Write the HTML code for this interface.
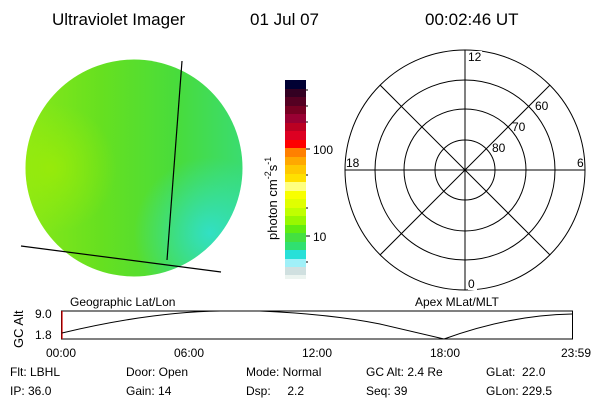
<!DOCTYPE html>
<html><head><meta charset="utf-8"><style>
body{margin:0;background:#fff;}
svg text{font-family:"Liberation Sans",sans-serif;fill:#000;}
</style></head><body>
<svg width="600" height="400" viewBox="0 0 600 400" xmlns="http://www.w3.org/2000/svg">
<defs>
<linearGradient id="g1" x1="0" y1="0" x2="1" y2="0">
<stop offset="0" stop-color="#88e818"/>
<stop offset="0.35" stop-color="#66e020"/>
<stop offset="0.7" stop-color="#48dc3c"/>
<stop offset="1" stop-color="#3adc70"/>
</linearGradient>
<radialGradient id="g2" cx="0.85" cy="0.8" r="0.35">
<stop offset="0" stop-color="#30e0d0" stop-opacity="0.9"/>
<stop offset="1" stop-color="#30e0d0" stop-opacity="0"/>
</radialGradient>
<radialGradient id="g3" cx="0.12" cy="0.5" r="0.3">
<stop offset="0" stop-color="#a8ee00" stop-opacity="0.6"/>
<stop offset="1" stop-color="#a8ee00" stop-opacity="0"/>
</radialGradient>
</defs>
<text x="52" y="25" font-size="17">Ultraviolet Imager</text>
<text x="250" y="25" font-size="17">01 Jul 07</text>
<text x="425" y="25" font-size="17">00:02:46 UT</text>

<circle cx="134" cy="168" r="108.5" fill="url(#g1)"/>
<circle cx="134" cy="168" r="108.5" fill="url(#g3)"/>
<circle cx="134" cy="168" r="108.5" fill="url(#g2)"/>
<line x1="182" y1="61" x2="167" y2="260" stroke="#000" stroke-width="1.2"/>
<line x1="21" y1="246" x2="221" y2="272" stroke="#000" stroke-width="1.2"/>

<g>
<rect x="285" y="80" width="21" height="9" fill="#000033"/>
<rect x="285" y="89" width="21" height="8" fill="#330022"/>
<rect x="285" y="97" width="21" height="9" fill="#550022"/>
<rect x="285" y="106" width="21" height="8" fill="#770022"/>
<rect x="285" y="114" width="21" height="9" fill="#990033"/>
<rect x="285" y="123" width="21" height="8" fill="#bb0022"/>
<rect x="285" y="131" width="21" height="9" fill="#dd0022"/>
<rect x="285" y="140" width="21" height="8" fill="#ff0000"/>
<rect x="285" y="148" width="21" height="9" fill="#ff8000"/>
<rect x="285" y="157" width="21" height="8" fill="#ffa800"/>
<rect x="285" y="165" width="21" height="9" fill="#ffc800"/>
<rect x="285" y="174" width="21" height="8" fill="#ffe000"/>
<rect x="285" y="182" width="21" height="9" fill="#ffff80"/>
<rect x="285" y="191" width="21" height="8" fill="#f8ff00"/>
<rect x="285" y="199" width="21" height="9" fill="#e0ff00"/>
<rect x="285" y="208" width="21" height="8" fill="#c0ff00"/>
<rect x="285" y="216" width="21" height="9" fill="#98f800"/>
<rect x="285" y="225" width="21" height="8" fill="#60ec10"/>
<rect x="285" y="233" width="21" height="9" fill="#44e040"/>
<rect x="285" y="242" width="21" height="8" fill="#30e070"/>
<rect x="285" y="250" width="21" height="9" fill="#28e0d8"/>
<rect x="285" y="259" width="21" height="8" fill="#a0f0f8"/>
<rect x="285" y="267" width="21" height="8" fill="#d0e0e0"/>
<rect x="285" y="275" width="21" height="4" fill="#ecf4f0"/>
<line x1="306" y1="149" x2="310" y2="149" stroke="#000"/>
<line x1="306" y1="236" x2="310" y2="236" stroke="#000"/>
<line x1="306" y1="90" x2="308" y2="90" stroke="#000"/>
<line x1="306" y1="106" x2="308" y2="106" stroke="#000"/>
<line x1="306" y1="122" x2="308" y2="122" stroke="#000"/>
<line x1="306" y1="175" x2="308" y2="175" stroke="#000"/>
<line x1="306" y1="208" x2="308" y2="208" stroke="#000"/>
<line x1="306" y1="262" x2="308" y2="262" stroke="#000"/>
<text x="313" y="154" font-size="12">100</text>
<text x="313" y="241" font-size="12">10</text>
<text transform="translate(277,240) rotate(-90)" font-size="13">photon cm<tspan font-size="9" dy="-6">-2</tspan><tspan dy="6">s</tspan><tspan font-size="9" dy="-6">-1</tspan></text>
</g>

<g fill="none" stroke="#000" stroke-width="1">
<circle cx="465" cy="170" r="120"/>
<circle cx="465" cy="170" r="90"/>
<circle cx="465" cy="170" r="61"/>
<circle cx="465" cy="170" r="30"/>
<line x1="345" y1="170" x2="585" y2="170"/>
<line x1="465" y1="50" x2="465" y2="290"/>
<line x1="380" y1="85" x2="550" y2="255"/>
<line x1="550" y1="85" x2="380" y2="255"/>
</g>
<rect x="468" y="51" width="14" height="11" fill="#fff"/>
<text x="468" y="61" font-size="12">12</text>
<rect x="468" y="279" width="9" height="11" fill="#fff"/>
<text x="468" y="288" font-size="12">0</text>
<text x="346" y="167" font-size="12">18</text>
<text x="577" y="167" font-size="12">6</text>
<text x="492" y="152" font-size="12">80</text>
<text x="512" y="131" font-size="12">70</text>
<text x="535" y="110" font-size="12">60</text>

<text x="70" y="306" font-size="12">Geographic Lat/Lon</text>
<text x="415" y="306" font-size="12">Apex MLat/MLT</text>
<rect x="61.5" y="311" width="511" height="28" fill="none" stroke="#000"/>
<line x1="62" y1="311" x2="62" y2="339" stroke="#d00" stroke-width="1.2"/>
<path d="M62,333 Q150,312 220,311 L260,311 Q330,314 380,324 L444,339 Q510,315 572,314" fill="none" stroke="#000" stroke-width="1"/>
<text x="35" y="318" font-size="12">9.0</text>
<text x="35" y="339" font-size="12">1.8</text>
<text transform="translate(23,348) rotate(-90)" font-size="13">GC Alt</text>
<text x="61" y="357" font-size="12" text-anchor="middle">00:00</text>
<text x="189" y="357" font-size="12" text-anchor="middle">06:00</text>
<text x="317" y="357" font-size="12" text-anchor="middle">12:00</text>
<text x="445" y="357" font-size="12" text-anchor="middle">18:00</text>
<text x="591" y="357" font-size="12" text-anchor="end">23:59</text>

<g font-size="12">
<text x="10" y="376">Flt: LBHL</text>
<text x="126" y="376">Door: Open</text>
<text x="246" y="376">Mode: Normal</text>
<text x="366" y="376">GC Alt: 2.4 Re</text>
<text x="486" y="376">GLat:&#160;&#160;22.0</text>
<text x="10" y="395">IP: 36.0</text>
<text x="126" y="395">Gain: 14</text>
<text x="246" y="395">Dsp:&#160;&#160;&#160;&#160;&#160;2.2</text>
<text x="366" y="395">Seq: 39</text>
<text x="486" y="395">GLon: 229.5</text>
</g>
</svg>
</body></html>
